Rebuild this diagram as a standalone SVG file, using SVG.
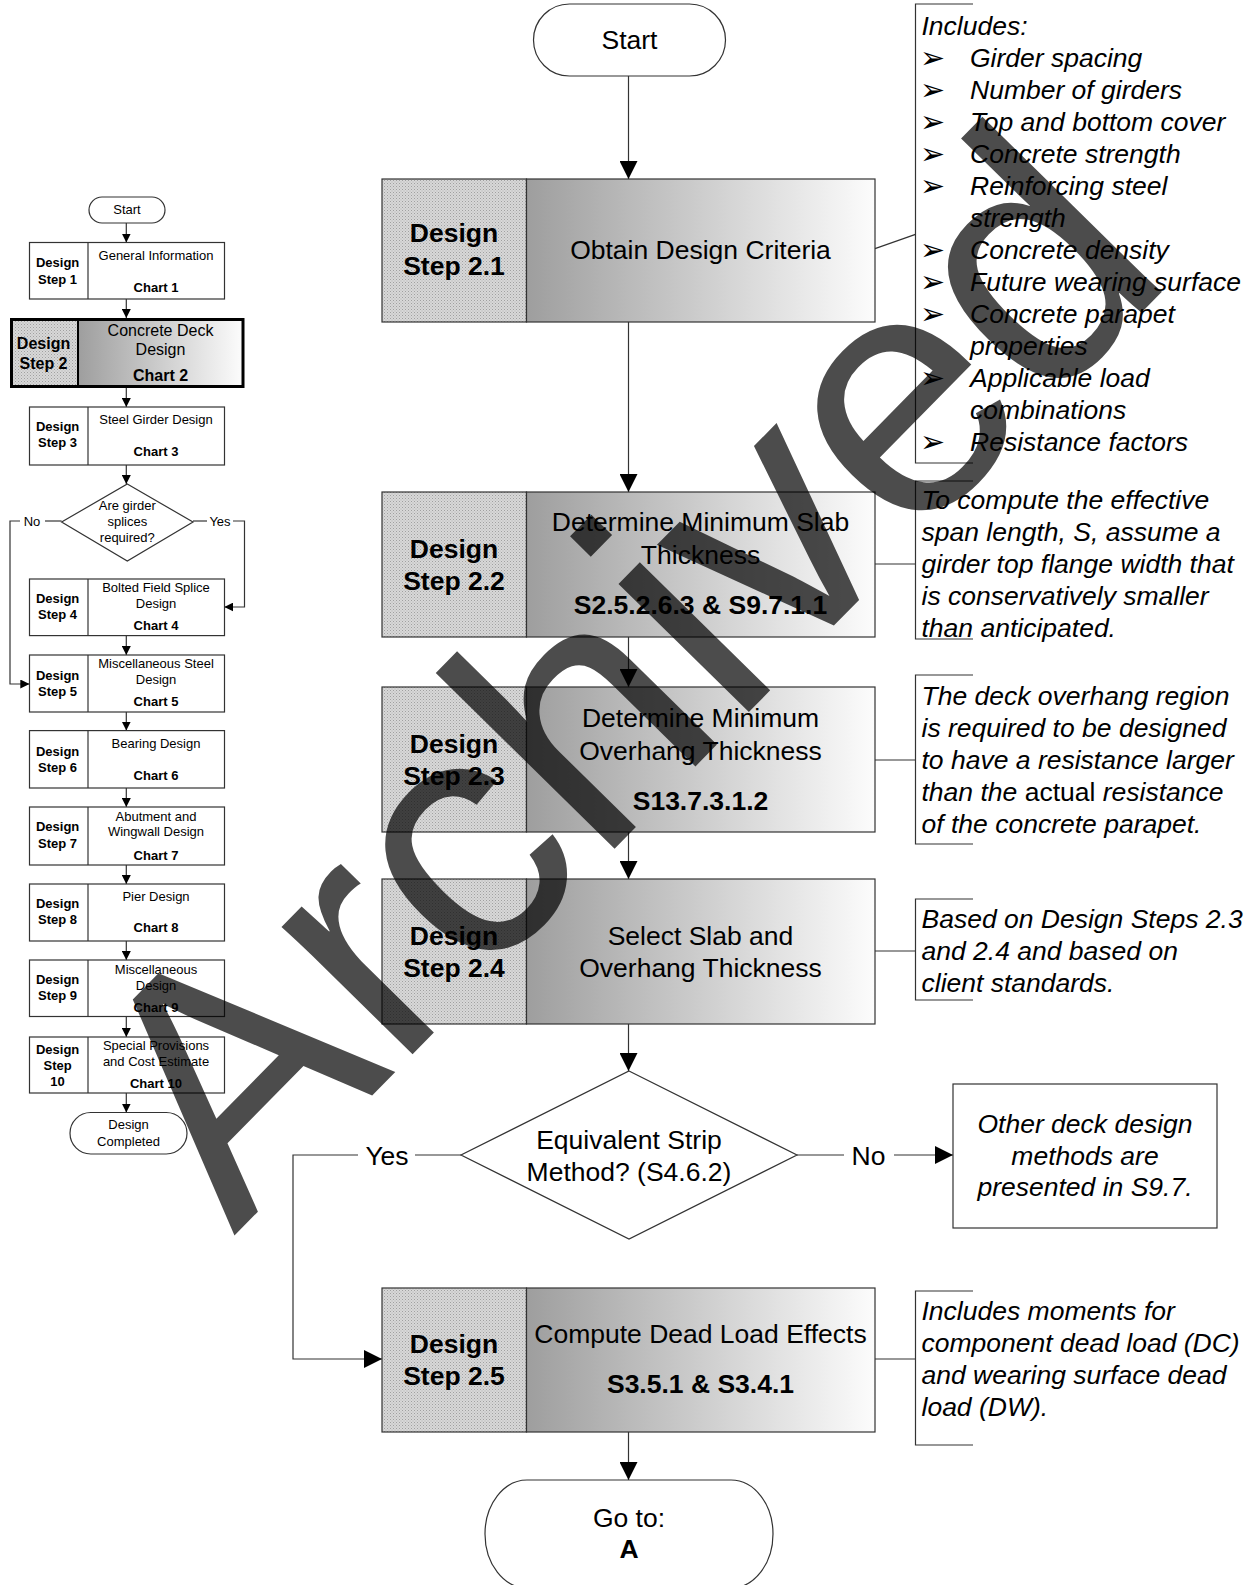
<svg xmlns="http://www.w3.org/2000/svg" width="1255" height="1585" viewBox="0 0 1255 1585">
<style>
  text { font-family: "Liberation Sans", Arial, sans-serif; fill: #000; }
  .m { font-size: 26.5px; text-anchor: middle; }
  .mb { font-size: 26.5px; font-weight: bold; text-anchor: middle; }
  .note { font-size: 26.5px; font-style: italic; }
  .up { font-style: normal; }
  .bul { font-family: "DejaVu Sans", sans-serif; font-size: 30px; font-style: normal; }
  .s { font-size: 13px; text-anchor: middle; }
  .sb { font-size: 13px; font-weight: bold; text-anchor: middle; }
  .s2 { font-size: 16px; text-anchor: middle; }
  .s2b { font-size: 16px; font-weight: bold; text-anchor: middle; }
  .ln { fill: none; stroke: #333; stroke-width: 1.2; }
  .wb { fill: #fff; stroke: #333; stroke-width: 1.2; }
  .hat { fill: url(#dots); stroke: #333; stroke-width: 1.2; }
  .grd { fill: url(#shade); stroke: #333; stroke-width: 1.2; }
  .arr { marker-end: url(#ah); }
  .sarr { marker-end: url(#sah); }
  .wm { font-size: 346px; fill: #000; fill-opacity: 0.7; }
</style>
<defs>
  <pattern id="dots" width="3" height="3" patternUnits="userSpaceOnUse">
    <rect width="3" height="3" fill="#d8d8d8"/>
    <rect width="1" height="1" fill="#a0a0a0"/>
    <rect x="1.5" y="1.5" width="1" height="1" fill="#b0b0b0"/>
  </pattern>
  <linearGradient id="shade" x1="0" y1="0" x2="1" y2="0">
    <stop offset="0" stop-color="#9e9e9e"/>
    <stop offset="1" stop-color="#fcfcfc"/>
  </linearGradient>
  <marker id="ah" viewBox="0 0 18 18" refX="18" refY="9" markerWidth="18" markerHeight="18" markerUnits="userSpaceOnUse" orient="auto">
    <path d="M0,0 L18,9 L0,18 z" fill="#000"/>
  </marker>
  <marker id="sah" viewBox="0 0 9 9" refX="9" refY="4.5" markerWidth="9" markerHeight="9" markerUnits="userSpaceOnUse" orient="auto">
    <path d="M0,0 L9,4.5 L0,9 z" fill="#000"/>
  </marker>
</defs>

<rect width="1255" height="1585" fill="#fff"/>

<!-- overview chart on the left -->
<g id="ov-connectors">
  <line class="ln sarr" x1="126.3" y1="223" x2="126.3" y2="242.5"/>
  <line class="ln sarr" x1="126.3" y1="299" x2="126.3" y2="318"/>
  <line class="ln sarr" x1="126.3" y1="388" x2="126.3" y2="407"/>
  <line class="ln sarr" x1="126.3" y1="465" x2="126.3" y2="484"/>
  <line class="ln sarr" x1="126.3" y1="635.6" x2="126.3" y2="655"/>
  <line class="ln sarr" x1="126.3" y1="712" x2="126.3" y2="730.6"/>
  <line class="ln sarr" x1="126.3" y1="788" x2="126.3" y2="807"/>
  <line class="ln sarr" x1="126.3" y1="865" x2="126.3" y2="884"/>
  <line class="ln sarr" x1="126.3" y1="941" x2="126.3" y2="960"/>
  <line class="ln sarr" x1="126.3" y1="1016.5" x2="126.3" y2="1037"/>
  <line class="ln sarr" x1="126.3" y1="1093" x2="126.3" y2="1112.5"/>
  <line class="ln" x1="61.6" y1="521" x2="45" y2="521"/>
  <path class="ln sarr" d="M20,521 H10 V684 H29.3"/>
  <text class="s" x="32" y="525.7">No</text>
  <line class="ln" x1="193" y1="521" x2="207" y2="521"/>
  <path class="ln sarr" d="M233,521 H244.5 V607 H224.3"/>
  <text class="s" x="220" y="525.7">Yes</text>
</g>

<g id="ov-start">
  <rect class="wb" x="89" y="197" width="76" height="26" rx="13"/>
  <text class="s" x="127" y="213.7">Start</text>
</g>
<g id="ov-step1">
  <rect class="wb" x="29.5" y="242.5" width="195" height="56.5"/>
  <line class="ln" x1="88" y1="242.5" x2="88" y2="299"/>
  <text class="sb" x="57.6" y="267.4">Design</text>
  <text class="sb" x="57.6" y="283.7">Step 1</text>
  <text class="s" x="156" y="260.3">General Information</text>
  <text class="sb" x="156" y="291.7">Chart 1</text>
</g>
<g id="ov-step2">
  <rect x="11.5" y="319.5" width="66.5" height="67" fill="url(#dots)"/>
  <rect x="78" y="319.5" width="165" height="67" fill="url(#shade)"/>
  <rect x="11.5" y="319.5" width="231.5" height="67" fill="none" stroke="#000" stroke-width="3"/>
  <line x1="78" y1="319.5" x2="78" y2="386.5" stroke="#000" stroke-width="2"/>
  <text class="s2b" x="43.5" y="349.3">Design</text>
  <text class="s2b" x="43.5" y="368.6">Step 2</text>
  <text class="s2" x="160.5" y="336.2">Concrete Deck</text>
  <text class="s2" x="160.5" y="355.4">Design</text>
  <text class="s2b" x="160.5" y="380.8">Chart 2</text>
</g>
<g id="ov-step3">
  <rect class="wb" x="29.5" y="407" width="195" height="58"/>
  <line class="ln" x1="88" y1="407" x2="88" y2="465"/>
  <text class="sb" x="57.6" y="431">Design</text>
  <text class="sb" x="57.6" y="447.3">Step 3</text>
  <text class="s" x="156" y="423.7">Steel Girder Design</text>
  <text class="sb" x="156" y="455.7">Chart 3</text>
</g>
<g id="ov-splices">
  <path class="wb" d="M127.3,484 L193,522 L127.3,561 L61.6,522 z"/>
  <text class="s" x="127.3" y="509.7">Are girder</text>
  <text class="s" x="127.3" y="525.7">splices</text>
  <text class="s" x="127.3" y="542.3">required?</text>
</g>
<g id="ov-step4">
  <rect class="wb" x="29.5" y="579" width="195" height="56.6"/>
  <line class="ln" x1="88" y1="579" x2="88" y2="635.6"/>
  <text class="sb" x="57.6" y="602.9">Design</text>
  <text class="sb" x="57.6" y="619.1">Step 4</text>
  <text class="s" x="156" y="591.7">Bolted Field Splice</text>
  <text class="s" x="156" y="607.7">Design</text>
  <text class="sb" x="156" y="630.2">Chart 4</text>
</g>
<g id="ov-step5">
  <rect class="wb" x="29.5" y="655" width="195" height="57"/>
  <line class="ln" x1="88" y1="655" x2="88" y2="712"/>
  <text class="sb" x="57.6" y="679.7">Design</text>
  <text class="sb" x="57.6" y="695.7">Step 5</text>
  <text class="s" x="156" y="667.7">Miscellaneous Steel</text>
  <text class="s" x="156" y="683.7">Design</text>
  <text class="sb" x="156" y="705.7">Chart 5</text>
</g>
<g id="ov-step6">
  <rect class="wb" x="29.5" y="730.6" width="195" height="57.4"/>
  <line class="ln" x1="88" y1="730.6" x2="88" y2="788"/>
  <text class="sb" x="57.6" y="755.5">Design</text>
  <text class="sb" x="57.6" y="771.7">Step 6</text>
  <text class="s" x="156" y="747.7">Bearing Design</text>
  <text class="sb" x="156" y="779.7">Chart 6</text>
</g>
<g id="ov-step7">
  <rect class="wb" x="29.5" y="807" width="195" height="58"/>
  <line class="ln" x1="88" y1="807" x2="88" y2="865"/>
  <text class="sb" x="57.6" y="831.3">Design</text>
  <text class="sb" x="57.6" y="847.5">Step 7</text>
  <text class="s" x="156" y="821.2">Abutment and</text>
  <text class="s" x="156" y="836.3">Wingwall Design</text>
  <text class="sb" x="156" y="859.7">Chart 7</text>
</g>
<g id="ov-step8">
  <rect class="wb" x="29.5" y="884" width="195" height="57"/>
  <line class="ln" x1="88" y1="884" x2="88" y2="941"/>
  <text class="sb" x="57.6" y="908.1">Design</text>
  <text class="sb" x="57.6" y="924.3">Step 8</text>
  <text class="s" x="156" y="900.7">Pier Design</text>
  <text class="sb" x="156" y="932.3">Chart 8</text>
</g>
<g id="ov-step9">
  <rect class="wb" x="29.5" y="960" width="195" height="56.5"/>
  <line class="ln" x1="88" y1="960" x2="88" y2="1016.5"/>
  <text class="sb" x="57.6" y="983.9">Design</text>
  <text class="sb" x="57.6" y="1000">Step 9</text>
  <text class="s" x="156" y="973.7">Miscellaneous</text>
  <text class="s" x="156" y="989.7">Design</text>
  <text class="sb" x="156" y="1012.2">Chart 9</text>
</g>
<g id="ov-step10">
  <rect class="wb" x="29.5" y="1037" width="195" height="56"/>
  <line class="ln" x1="88" y1="1037" x2="88" y2="1093"/>
  <text class="sb" x="57.6" y="1053.7">Design</text>
  <text class="sb" x="57.6" y="1069.7">Step</text>
  <text class="sb" x="57.6" y="1085.7">10</text>
  <text class="s" x="156" y="1049.7">Special Provisions</text>
  <text class="s" x="156" y="1065.7">and Cost Estimate</text>
  <text class="sb" x="156" y="1087.7">Chart 10</text>
</g>
<g id="ov-done">
  <rect class="wb" x="70" y="1112.5" width="117" height="41.5" rx="20.75"/>
  <text class="s" x="128.5" y="1129.4">Design</text>
  <text class="s" x="128.5" y="1145.7">Completed</text>
</g>

<!-- main chart connectors -->
<g id="connectors">
  <line class="ln arr" x1="628.5" y1="76" x2="628.5" y2="179"/>
  <line class="ln arr" x1="628.5" y1="322" x2="628.5" y2="492"/>
  <line class="ln arr" x1="628.5" y1="637" x2="628.5" y2="687"/>
  <line class="ln arr" x1="628.5" y1="832" x2="628.5" y2="879"/>
  <line class="ln arr" x1="628.5" y1="1024" x2="628.5" y2="1071"/>
  <line class="ln arr" x1="628.5" y1="1432" x2="628.5" y2="1480"/>
  <line class="ln" x1="461" y1="1155" x2="415" y2="1155"/>
  <path class="ln arr" d="M358,1155 H293 V1359 H382"/>
  <text class="m" x="387" y="1164.5">Yes</text>
  <line class="ln" x1="797" y1="1155" x2="844" y2="1155"/>
  <line class="ln arr" x1="894" y1="1155" x2="953" y2="1155"/>
  <text class="m" x="868.5" y="1164.5">No</text>
  <!-- note leaders and brackets -->
  <line class="ln" x1="875" y1="248.6" x2="915.5" y2="234.4"/>
  <path class="ln" d="M973,4 H915.5 V463 H973"/>
  <line class="ln" x1="875" y1="564" x2="915.5" y2="564"/>
  <path class="ln" d="M973,481 H915.5 V639 H973"/>
  <line class="ln" x1="875" y1="760" x2="915.5" y2="760"/>
  <path class="ln" d="M973,675 H915.5 V844 H973"/>
  <line class="ln" x1="875" y1="951" x2="915.5" y2="951"/>
  <path class="ln" d="M973,899 H915.5 V1000 H973"/>
  <line class="ln" x1="875" y1="1359" x2="915.5" y2="1359"/>
  <path class="ln" d="M973,1291 H915.5 V1445 H973"/>
</g>

<g id="start">
  <rect class="wb" x="533.5" y="4" width="192" height="72" rx="36"/>
  <text class="m" x="629.5" y="48.5">Start</text>
</g>

<g id="step-2-1">
  <rect class="hat" x="382" y="179" width="144.5" height="143"/>
  <rect class="grd" x="526.5" y="179" width="348.5" height="143"/>
  <text class="mb" x="454" y="241.5">Design</text>
  <text class="mb" x="454" y="274.5">Step 2.1</text>
  <text class="m" x="700.5" y="258.5">Obtain Design Criteria</text>
</g>

<g id="step-2-2">
  <rect class="hat" x="382" y="492" width="144.5" height="145"/>
  <rect class="grd" x="526.5" y="492" width="348.5" height="145"/>
  <text class="mb" x="454" y="557.5">Design</text>
  <text class="mb" x="454" y="589.5">Step 2.2</text>
  <text class="m" x="700.5" y="530.5">Determine Minimum Slab</text>
  <text class="m" x="700.5" y="563.5">Thickness</text>
  <text class="mb" x="700.5" y="613.5">S2.5.2.6.3 &amp; S9.7.1.1</text>
</g>

<g id="step-2-3">
  <rect class="hat" x="382" y="687" width="144.5" height="145"/>
  <rect class="grd" x="526.5" y="687" width="348.5" height="145"/>
  <text class="mb" x="454" y="752.5">Design</text>
  <text class="mb" x="454" y="784.5">Step 2.3</text>
  <text class="m" x="700.5" y="726.5">Determine Minimum</text>
  <text class="m" x="700.5" y="759.5">Overhang Thickness</text>
  <text class="mb" x="700.5" y="809.5">S13.7.3.1.2</text>
</g>

<g id="step-2-4">
  <rect class="hat" x="382" y="879" width="144.5" height="145"/>
  <rect class="grd" x="526.5" y="879" width="348.5" height="145"/>
  <text class="mb" x="454" y="944.5">Design</text>
  <text class="mb" x="454" y="976.5">Step 2.4</text>
  <text class="m" x="700.5" y="944.5">Select Slab and</text>
  <text class="m" x="700.5" y="976.5">Overhang Thickness</text>
</g>

<g id="strip-method">
  <path class="wb" d="M629,1071 L797,1155 L629,1239 L461,1155 z"/>
  <text class="m" x="629" y="1148.5">Equivalent Strip</text>
  <text class="m" x="629" y="1180.5">Method? (S4.6.2)</text>
</g>

<g id="other-methods">
  <rect class="wb" x="953" y="1084" width="264" height="144"/>
  <text class="m" x="1085" y="1132.5" font-style="italic">Other deck design</text>
  <text class="m" x="1085" y="1164.5" font-style="italic">methods are</text>
  <text class="m" x="1085" y="1195.5" font-style="italic">presented in S9.7.</text>
</g>

<g id="step-2-5">
  <rect class="hat" x="382" y="1288" width="144.5" height="144"/>
  <rect class="grd" x="526.5" y="1288" width="348.5" height="144"/>
  <text class="mb" x="454" y="1352.5">Design</text>
  <text class="mb" x="454" y="1384.5">Step 2.5</text>
  <text class="m" x="700.5" y="1342.5">Compute Dead Load Effects</text>
  <text class="mb" x="700.5" y="1392.5">S3.5.1 &amp; S3.4.1</text>
</g>

<g id="goto-a">
  <rect class="wb" x="485" y="1480" width="288" height="108" rx="42" ry="54"/>
  <text class="m" x="629" y="1526.5">Go to:</text>
  <text class="mb" x="629" y="1557.5">A</text>
</g>

<!-- side notes -->
<g id="note-criteria">
  <text class="note" x="921.5" y="34.8">Includes:</text>
  <text class="bul" x="920" y="67.8">➢</text>
  <text class="bul" x="920" y="99.8">➢</text>
  <text class="bul" x="920" y="131.8">➢</text>
  <text class="bul" x="920" y="163.8">➢</text>
  <text class="bul" x="920" y="195.8">➢</text>
  <text class="bul" x="920" y="259.8">➢</text>
  <text class="bul" x="920" y="291.8">➢</text>
  <text class="bul" x="920" y="323.8">➢</text>
  <text class="bul" x="920" y="387.8">➢</text>
  <text class="bul" x="920" y="451.8">➢</text>
  <text class="note" x="970" y="66.8">Girder spacing</text>
  <text class="note" x="970" y="98.8">Number of girders</text>
  <text class="note" x="970" y="130.8">Top and bottom cover</text>
  <text class="note" x="970" y="162.8">Concrete strength</text>
  <text class="note" x="970" y="194.8">Reinforcing steel</text>
  <text class="note" x="970" y="226.8">strength</text>
  <text class="note" x="970" y="258.8">Concrete density</text>
  <text class="note" x="970" y="290.8">Future wearing surface</text>
  <text class="note" x="970" y="322.8">Concrete parapet</text>
  <text class="note" x="970" y="354.8">properties</text>
  <text class="note" x="970" y="386.8">Applicable load</text>
  <text class="note" x="970" y="418.8">combinations</text>
  <text class="note" x="970" y="450.8">Resistance factors</text>
</g>

<g id="note-slab">
  <text class="note" x="921.5" y="508.5">To compute the effective</text>
  <text class="note" x="921.5" y="540.5">span length, S, assume a</text>
  <text class="note" x="921.5" y="572.5">girder top flange width that</text>
  <text class="note" x="921.5" y="604.5">is conservatively smaller</text>
  <text class="note" x="921.5" y="636.5">than anticipated.</text>
</g>

<g id="note-overhang">
  <text class="note" x="921.5" y="704.5">The deck overhang region</text>
  <text class="note" x="921.5" y="736.5">is required to be designed</text>
  <text class="note" x="921.5" y="768.5">to have a resistance larger</text>
  <text class="note" x="921.5" y="800.5">than the <tspan class="up">actual</tspan> resistance</text>
  <text class="note" x="921.5" y="832.5">of the concrete parapet.</text>
</g>

<g id="note-select">
  <text class="note" x="921.5" y="928">Based on Design Steps 2.3</text>
  <text class="note" x="921.5" y="960">and 2.4 and based on</text>
  <text class="note" x="921.5" y="992">client standards.</text>
</g>

<g id="note-dead-load">
  <text class="note" x="921.5" y="1320">Includes moments for</text>
  <text class="note" x="921.5" y="1352">component dead load (DC)</text>
  <text class="note" x="921.5" y="1384">and wearing surface dead</text>
  <text class="note" x="921.5" y="1416">load (DW).</text>
</g>

<!-- archive stamp across the sheet -->
<text class="wm" transform="translate(234,1236) rotate(-45.5)">Archived</text>
</svg>
